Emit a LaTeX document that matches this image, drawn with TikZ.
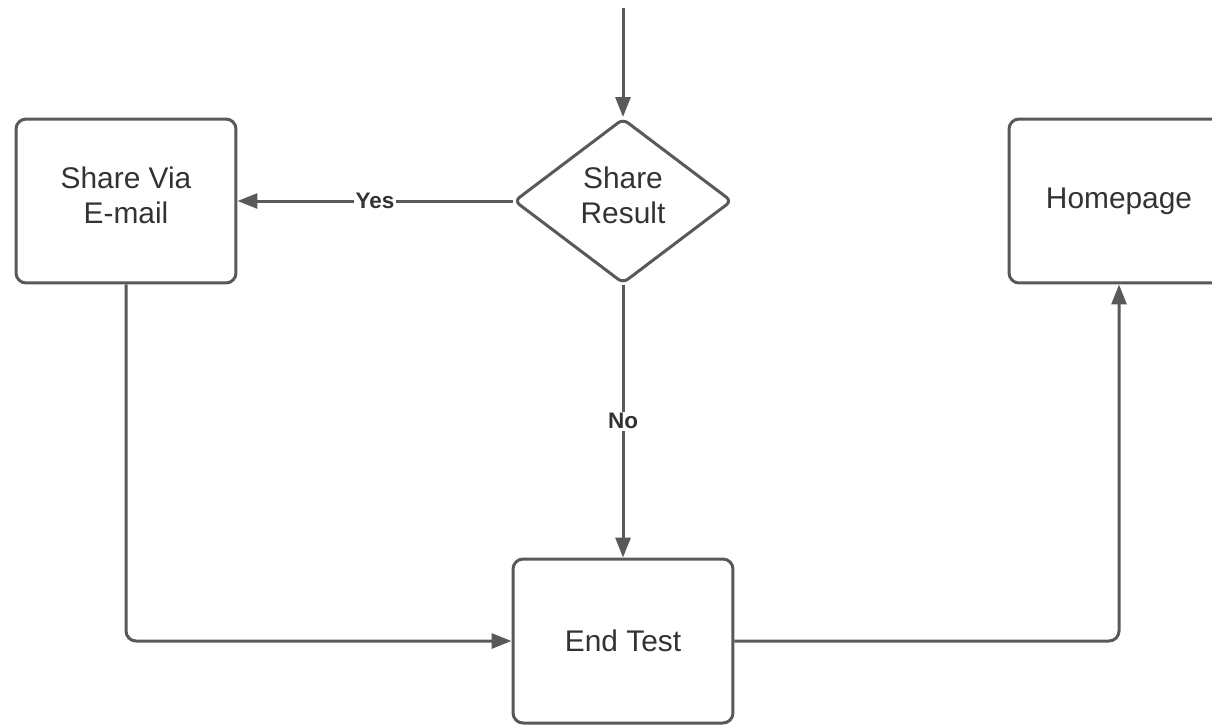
\documentclass[tikz,border=0pt]{standalone}
\usepackage{fontspec}
\setmainfont{Liberation Sans}
\usetikzlibrary{shapes.geometric, arrows.meta}
\definecolor{edgegray}{HTML}{595959}
\definecolor{textgray}{HTML}{333333}

\begin{document}
\begin{tikzpicture}[x=0.02cm, y=-0.02cm,
  every node/.style={text=textgray, font=\fontsize{17}{20}\selectfont, align=center},
  box/.style={rectangle, draw=edgegray, line width=0.06cm, rounded corners=0.2cm, minimum width=4.4cm, minimum height=3.28cm},
  choice/.style={diamond, draw=edgegray, line width=0.06cm, rounded corners=0.12cm, inner sep=0pt, minimum width=4.36cm, minimum height=3.3cm, aspect=1.33},
  twoline/.style={text depth=0.24cm},
  flow/.style={draw=edgegray, line width=0.06cm, -{Triangle[length=0.4cm, width=0.3cm]}},
  answer/.style={fill=white, inner sep=1pt, font=\fontsize{12.8}{14}\selectfont\bfseries}]
  \useasboundingbox (0,0) rectangle (1212,724);
  \coordinate (start) at (623,8);
  \node[choice, twoline] (share) at (623,201) {Share\\Result};
  \node[box, twoline] (email) at (126,201) {Share Via\\E-mail};
  \node[box] (home) at (1119,201) {Homepage};
  \node[box] (end) at (623,641) {End Test};
  \draw[flow] (start) -- (share.north);
  \draw[flow] (share.west) -- node[answer] {Yes} (email.east);
  \draw[flow] (share.south) -- node[answer] {No} (end.north);
  \draw[flow, rounded corners=0.2cm] (email.south) |- (end.west);
  \draw[flow, rounded corners=0.2cm] (end.east) -| (home.south);
\end{tikzpicture}
\end{document}
